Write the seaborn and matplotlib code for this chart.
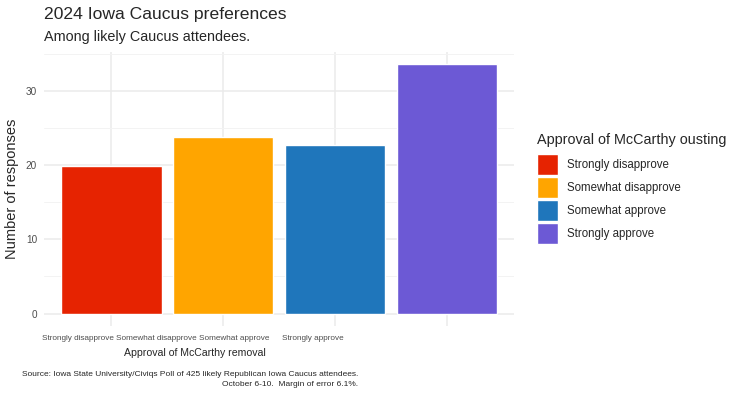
import numpy as np
import pandas as pd
import seaborn as sns
import matplotlib.pyplot as plt

# ----------------------------------------
# Data
# ----------------------------------------
categories = ["Strongly disapprove", "Somewhat disapprove",
              "Somewhat approve", "Strongly approve"]
responses = [19.9, 23.8, 22.8, 33.6]
colors = ["#E62301", "#FFA500", "#1F76BB", "#6C59D5"]
y_ticks = [0, 10, 20, 30]

df = pd.DataFrame({"approval": categories, "responses": responses})

# ----------------------------------------
# Figure setup
# ----------------------------------------
W, H = 743, 399
sns.set_style("white")
plt.rcParams["font.family"] = ["Liberation Sans", "DejaVu Sans"]

fig = plt.figure(figsize=(W / 100, H / 100), dpi=100)


def fx(px):
    return px / W


def fy(py):
    return 1 - py / H


# panel in pixels: left 44, right 514, top 52, bottom 326
ax = fig.add_axes([fx(44), fy(326), fx(514) - fx(44), fy(52) - fy(326)])

sns.barplot(data=df, x="approval", y="responses", hue="approval",
            palette=colors, width=0.9, saturation=1, legend=True, ax=ax,
            zorder=3)

ax.set_xlim(-0.6, 3.6)
ax.set_ylim(-1.68, 35.28)
ax.set_yticks(y_ticks)
ax.set_yticks([5, 15, 25, 35], minor=True)
ax.set_yticklabels([str(t) for t in y_ticks], color="#4D4D4D", fontsize=7.2)
ax.tick_params(axis="both", length=0, pad=5)
ax.grid(True, which="major", color="#EBEBEB", linewidth=1.1, zorder=0)
ax.grid(True, which="minor", axis="y", color="#F3F3F3", linewidth=0.7, zorder=0)
for s in ax.spines.values():
    s.set_visible(False)

# x tick labels and axis titles (the reference squeezes the x texts
# toward the left, so they are placed by hand)
ax.set_xticks(range(len(categories)))
ax.set_xticklabels([])
ax.set_xlabel("")
ax.set_ylabel("")
fig.text(fx(12.5), (fy(326) + fy(52)) / 2, "Number of responses",
         rotation=90, ha="center", va="center", fontsize=10.5)

panel_left, panel_w = 44, 470
for i, cat in enumerate(categories):
    cx = panel_left + (i + 0.6) / 4.2 * panel_w
    fig.text(fx(0.7 * cx), fy(338.5), cat, ha="center", va="center",
             fontsize=5.9, color="#4D4D4D")
fig.text(fx(0.7 * (panel_left + panel_w / 2)), fy(353),
         "Approval of McCarthy removal", ha="center", va="center",
         fontsize=7.6)

# legend (title drawn separately so the keys sit where the reference has them)
handles, labels = ax.get_legend_handles_labels()
if ax.get_legend():
    ax.get_legend().remove()
fig.text(fx(537), fy(140), "Approval of McCarthy ousting",
         ha="left", va="center", fontsize=10.4)
leg = fig.legend(handles, labels, loc="upper left",
                 bbox_to_anchor=(fx(537), fy(154)),
                 frameon=False, fontsize=8.3,
                 handlelength=1.82, handleheight=2.42, labelspacing=0.17,
                 handletextpad=0.8, borderaxespad=0, borderpad=0)

# titles and caption
fig.text(fx(44), fy(15), "2024 Iowa Caucus preferences",
         ha="left", va="center", fontsize=12.6)
fig.text(fx(44), fy(37), "Among likely Caucus attendees.",
         ha="left", va="center", fontsize=10.4)
fig.text(fx(358), fy(379.5),
         "Source: Iowa State University/Civiqs Poll of 425 likely Republican Iowa Caucus attendees.\n"
         "October 6-10.  Margin of error 6.1%.",
         ha="right", va="center", multialignment="right", fontsize=6.0,
         linespacing=1.45)

fig.savefig("out.png", dpi=100, facecolor="white")
